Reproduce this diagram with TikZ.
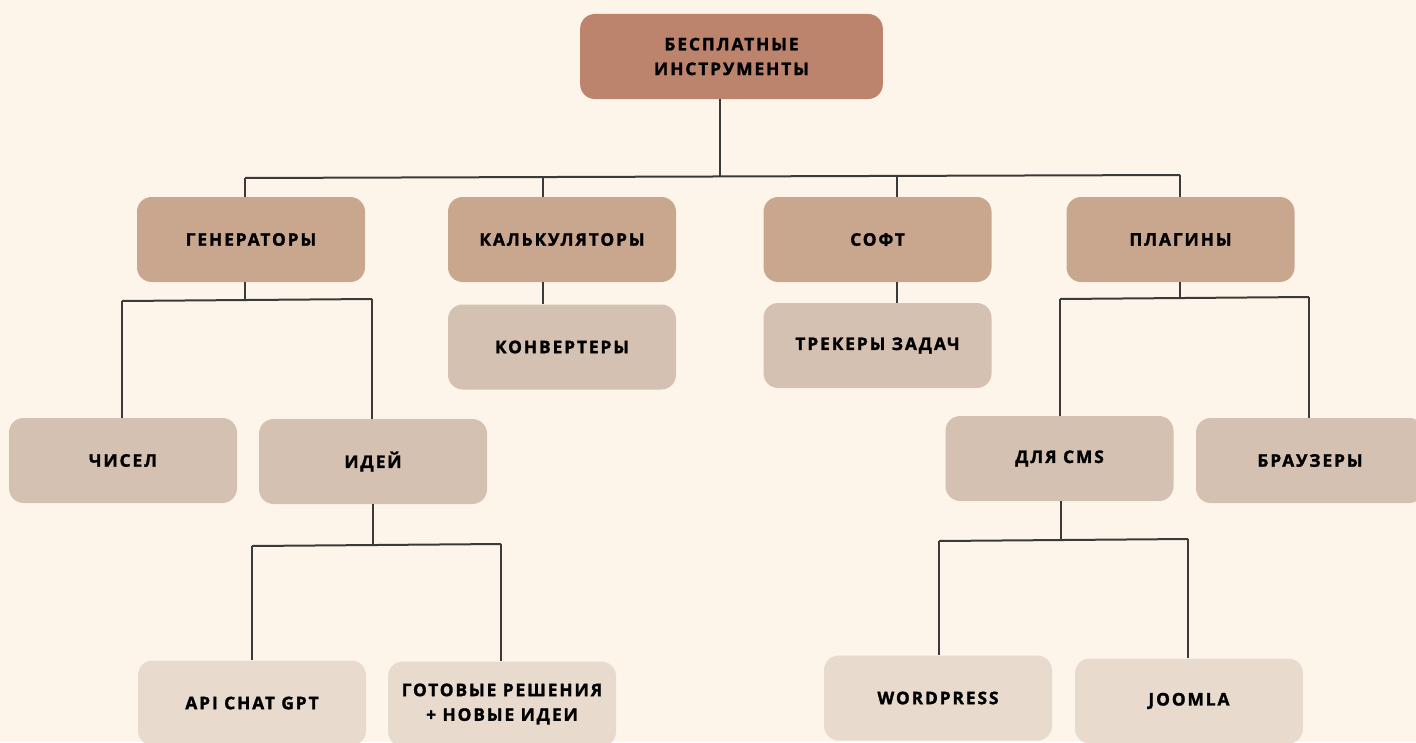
\documentclass[tikz,border=0pt]{standalone}
\usepackage{fontspec}
\setmainfont{Open Sans}[LetterSpace=11,BoldFeatures={FakeBold=1.6}]
\definecolor{bg}{HTML}{FDF5EA}
\definecolor{c0}{HTML}{BC846D}
\definecolor{c1}{HTML}{C9A68E}
\definecolor{c2}{HTML}{D5C1B1}
\definecolor{c3}{HTML}{E8DBCE}
\definecolor{ln}{HTML}{3A3A3A}
\tikzset{
  box/.style={rounded corners=11pt, minimum width=171pt, minimum height=63.75pt, inner sep=2pt, align=center, font=\bfseries\fontsize{13}{18.5}\selectfont, text=black},
  lvl0/.style={box, fill=c0, minimum width=227pt},
  lvl1/.style={box, fill=c1},
  lvl2/.style={box, fill=c2},
  lvl3/.style={box, fill=c3},
  conn/.style={draw=ln, line width=1.5pt}
}
\begin{document}
\begin{tikzpicture}[x=0.75pt,y=-0.75pt]
\fill[bg] (0,0) rectangle (1416,742);
\useasboundingbox (0,0) rectangle (1416,742);
% nodes
\node[lvl0] (root) at (731.5,56.5) {БЕСПЛАТНЫЕ\\ИНСТРУМЕНТЫ};
\node[lvl1] (gen) at (251,239.5) {ГЕНЕРАТОРЫ};
\node[lvl1] (calc) at (562,239.5) {КАЛЬКУЛЯТОРЫ};
\node[lvl1] (soft) at (877.5,239.5) {СОФТ};
\node[lvl1] (plug) at (1180.5,239.5) {ПЛАГИНЫ};
\node[lvl2] (conv) at (562,347) {КОНВЕРТЕРЫ};
\node[lvl2] (track) at (877.5,345.5) {ТРЕКЕРЫ ЗАДАЧ};
\node[lvl2] (num) at (123,460.5) {ЧИСЕЛ};
\node[lvl2] (ideas) at (373,461.5) {ИДЕЙ};
\node[lvl2] (cms) at (1059.5,458.5) {ДЛЯ CMS};
\node[lvl2] (brow) at (1310,460.5) {БРАУЗЕРЫ};
\node[lvl3] (api) at (252,703) {API CHAT GPT};
\node[lvl3] (ready) at (502,704) {ГОТОВЫЕ РЕШЕНИЯ\\+ НОВЫЕ ИДЕИ};
\node[lvl3] (wp) at (938,698) {WORDPRESS};
\node[lvl3] (joom) at (1189,701) {JOOMLA};
% bus coordinates
\coordinate (b0) at (720,177);
\coordinate (b0l) at (245,178);
\coordinate (b0r) at (1180,175);
\coordinate (b0c) at (543,177.2);
\coordinate (b0s) at (897,176);
\coordinate (bg1) at (245,300);
\coordinate (bgl) at (122,301);
\coordinate (bgr) at (372,299);
\coordinate (bp1) at (1180,298);
\coordinate (bpl) at (1060,299);
\coordinate (bpr) at (1309,297);
\coordinate (bi1) at (373,545);
\coordinate (bil) at (252,546);
\coordinate (bir) at (501,544);
\coordinate (bc1) at (1061,540);
\coordinate (bcl) at (939,541);
\coordinate (bcr) at (1188,539);
% connectors
\draw[conn] (b0 |- root.south) -- (b0);
\draw[conn] (b0l) -- (b0r);
\draw[conn] (b0l) -- (b0l |- gen.north);
\draw[conn] (b0c) -- (b0c |- calc.north);
\draw[conn] (b0s) -- (b0s |- soft.north);
\draw[conn] (b0r) -- (b0r |- plug.north);
\draw[conn] (bg1 |- gen.south) -- (bg1);
\draw[conn] (bgl) -- (bgr);
\draw[conn] (bgl) -- (bgl |- num.north);
\draw[conn] (bgr) -- (bgr |- ideas.north);
\draw[conn] (b0c |- calc.south) -- (b0c |- conv.north);
\draw[conn] (b0s |- soft.south) -- (b0s |- track.north);
\draw[conn] (bp1 |- plug.south) -- (bp1);
\draw[conn] (bpl) -- (bpr);
\draw[conn] (bpl) -- (bpl |- cms.north);
\draw[conn] (bpr) -- (bpr |- brow.north);
\draw[conn] (bi1 |- ideas.south) -- (bi1);
\draw[conn] (bil) -- (bir);
\draw[conn] (bil) -- (bil |- api.north);
\draw[conn] (bir) -- (bir |- ready.north);
\draw[conn] (bc1 |- cms.south) -- (bc1);
\draw[conn] (bcl) -- (bcr);
\draw[conn] (bcl) -- (bcl |- wp.north);
\draw[conn] (bcr) -- (bcr |- joom.north);
\end{tikzpicture}
\end{document}
